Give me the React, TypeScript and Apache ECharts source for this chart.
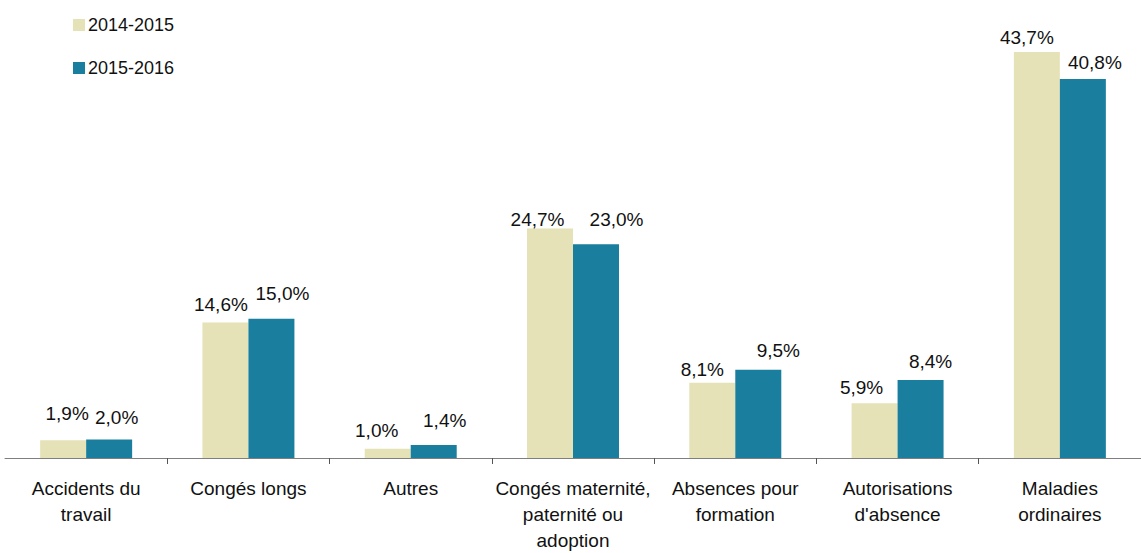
import React, { useEffect, useRef } from "react";
import * as echarts from "echarts";

const categories = [
  "Accidents du\ntravail",
  "Congés longs",
  "Autres",
  "Congés maternité,\npaternité ou\nadoption",
  "Absences pour\nformation",
  "Autorisations\nd'absence",
  "Maladies\nordinaires",
];
const seriesNames = ["2014-2015", "2015-2016"];
const values2014 = [1.9, 14.6, 1.0, 24.7, 8.1, 5.9, 43.7];
const values2016 = [2.0, 15.0, 1.4, 23.0, 9.5, 8.4, 40.8];

// label nudges (px) as placed in the reference
const labelOffsets2014 = [[4, -17.1], [-4.5, -8.1], [-11, -9.1], [-12.5, 0.6], [-10, -4.1], [-13, -6.1], [-10, -5.1]];
const labelOffsets2016 = [[7.5, -12.1], [11, -16.1], [11, -15.1], [20.5, -15.1], [20, -9.8], [10, -8.8], [12, -7.1]];

const FONT = "'Liberation Sans', Arial, Helvetica, sans-serif";

export default function App() {
  const ref = useRef<HTMLDivElement>(null);
  useEffect(() => {
    if (!ref.current) return;
    const chart = echarts.init(ref.current, undefined, { renderer: "svg" });
    const fmt = (p: any) => Number(p.value).toFixed(1).replace(".", ",") + "%";
    const baseLabel = {
      show: true,
      position: "top",
      distance: 0,
      formatter: fmt,
      color: "#111",
      fontSize: 19,
      lineHeight: 19,
      fontFamily: FONT,
    };
    const build = (vals: number[], offs: number[][]) =>
      vals.map((v, i) => ({ value: v, label: { offset: offs[i] } }));
    chart.setOption({
      animation: false,
      textStyle: { fontFamily: FONT },
      legend: {
        orient: "vertical",
        left: 73,
        top: 15,
        padding: 0,
        itemWidth: 12,
        itemHeight: 12,
        itemGap: 23,
        icon: "rect",
        textStyle: { fontSize: 18, color: "#111", fontFamily: FONT, lineHeight: 20, padding: [0, 0, 0, -2] },
        data: seriesNames,
      },
      grid: { left: 5, top: 40, width: 1141, height: 418 },
      xAxis: {
        type: "category",
        data: categories,
        axisLine: { show: true, lineStyle: { color: "#7f7f7f", width: 1 } },
        axisTick: {
          show: true,
          length: 6,
          lineStyle: { color: "#555" },
          interval: (index: number) => index > 0,
        },
        axisLabel: {
          interval: 0,
          margin: 17,
          fontSize: 19,
          lineHeight: 26,
          color: "#111",
          fontFamily: FONT,
        },
      },
      yAxis: {
        type: "value",
        min: 0,
        max: 45,
        show: false,
        splitLine: { show: false },
      },
      series: [
        {
          name: seriesNames[0],
          type: "bar",
          data: build(values2014, labelOffsets2014),
          barWidth: 46,
          barGap: "0%",
          itemStyle: { color: "#E6E2B8" },
          label: baseLabel,
        },
        {
          name: seriesNames[1],
          type: "bar",
          data: build(values2016, labelOffsets2016),
          barWidth: 46,
          barGap: "0%",
          itemStyle: { color: "#1A7F9E" },
          label: baseLabel,
        },
      ],
    });
    return () => chart.dispose();
  }, []);
  return (
    <div
      ref={ref}
      style={{ position: "absolute", left: 0, top: 0, width: 1141, height: 553, background: "#fff" }}
    />
  );
}
